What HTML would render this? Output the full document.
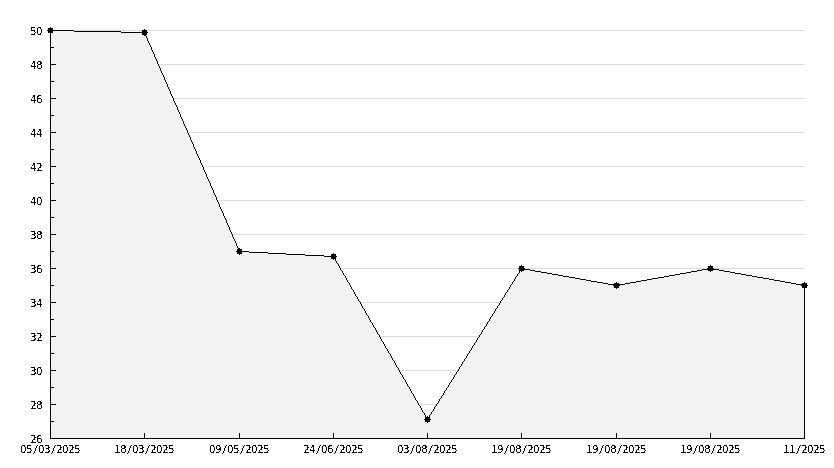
<!DOCTYPE html>
<html lang="en">
<head>
<meta charset="utf-8">
<title>Chart</title>
<style>
html,body{margin:0;padding:0;background:#fff;}
body{width:834px;height:468px;overflow:hidden;}
svg{display:block;}
text{font-family:"DejaVu Sans Condensed","DejaVu Sans","Liberation Sans",sans-serif;font-stretch:condensed;font-size:11px;fill:#000;}
.s{font-style:italic;}
</style>
</head>
<body>
<svg width="834" height="468" viewBox="0 0 834 468">
<defs>
<filter id="alias" x="0" y="0" width="834" height="468" filterUnits="userSpaceOnUse" color-interpolation-filters="sRGB">
<feComponentTransfer><feFuncA type="discrete" tableValues="0 0 0 0 0 1 1 1 1 1 1"/></feComponentTransfer>
</filter>
</defs>
<rect x="0" y="0" width="834" height="468" fill="#ffffff"/>
<g shape-rendering="crispEdges">
<g fill="#dcdcdc">
<rect x="50" y="404" width="755" height="1"/>
<rect x="50" y="370" width="755" height="1"/>
<rect x="50" y="336" width="755" height="1"/>
<rect x="50" y="302" width="755" height="1"/>
<rect x="50" y="268" width="755" height="1"/>
<rect x="50" y="234" width="755" height="1"/>
<rect x="50" y="200" width="755" height="1"/>
<rect x="50" y="166" width="755" height="1"/>
<rect x="50" y="132" width="755" height="1"/>
<rect x="50" y="98" width="755" height="1"/>
<rect x="50" y="64" width="755" height="1"/>
<rect x="50" y="30" width="755" height="1"/>
</g>
<polygon points="50.5,438.5 50.5,30.5 144.5,32.5 239.5,251.5 333.5,256.5 427.5,419.5 521.5,268.5 616.5,285.5 710.5,268.5 804.5,285.5 804.5,438.5" fill="#f2f2f2"/>
<g fill="#000">
<rect x="50" y="30" width="24" height="1"/>
<rect x="74" y="31" width="47" height="1"/>
<rect x="121" y="32" width="24" height="1"/>
<rect x="144" y="32" width="1" height="2"/>
<rect x="145" y="34" width="1" height="2"/>
<rect x="146" y="36" width="1" height="2"/>
<rect x="147" y="38" width="1" height="3"/>
<rect x="148" y="41" width="1" height="2"/>
<rect x="149" y="43" width="1" height="2"/>
<rect x="150" y="45" width="1" height="2"/>
<rect x="151" y="47" width="1" height="3"/>
<rect x="152" y="50" width="1" height="2"/>
<rect x="153" y="52" width="1" height="2"/>
<rect x="154" y="54" width="1" height="3"/>
<rect x="155" y="57" width="1" height="2"/>
<rect x="156" y="59" width="1" height="2"/>
<rect x="157" y="61" width="1" height="3"/>
<rect x="158" y="64" width="1" height="2"/>
<rect x="159" y="66" width="1" height="2"/>
<rect x="160" y="68" width="1" height="3"/>
<rect x="161" y="71" width="1" height="2"/>
<rect x="162" y="73" width="1" height="2"/>
<rect x="163" y="75" width="1" height="2"/>
<rect x="164" y="77" width="1" height="3"/>
<rect x="165" y="80" width="1" height="2"/>
<rect x="166" y="82" width="1" height="2"/>
<rect x="167" y="84" width="1" height="3"/>
<rect x="168" y="87" width="1" height="2"/>
<rect x="169" y="89" width="1" height="2"/>
<rect x="170" y="91" width="1" height="3"/>
<rect x="171" y="94" width="1" height="2"/>
<rect x="172" y="96" width="1" height="2"/>
<rect x="173" y="98" width="1" height="3"/>
<rect x="174" y="101" width="1" height="2"/>
<rect x="175" y="103" width="1" height="2"/>
<rect x="176" y="105" width="1" height="2"/>
<rect x="177" y="107" width="1" height="3"/>
<rect x="178" y="110" width="1" height="2"/>
<rect x="179" y="112" width="1" height="2"/>
<rect x="180" y="114" width="1" height="3"/>
<rect x="181" y="117" width="1" height="2"/>
<rect x="182" y="119" width="1" height="2"/>
<rect x="183" y="121" width="1" height="3"/>
<rect x="184" y="124" width="1" height="2"/>
<rect x="185" y="126" width="1" height="2"/>
<rect x="186" y="128" width="1" height="2"/>
<rect x="187" y="130" width="1" height="3"/>
<rect x="188" y="133" width="1" height="2"/>
<rect x="189" y="135" width="1" height="2"/>
<rect x="190" y="137" width="1" height="3"/>
<rect x="191" y="140" width="1" height="2"/>
<rect x="192" y="142" width="1" height="2"/>
<rect x="193" y="144" width="1" height="3"/>
<rect x="194" y="147" width="1" height="2"/>
<rect x="195" y="149" width="1" height="2"/>
<rect x="196" y="151" width="1" height="3"/>
<rect x="197" y="154" width="1" height="2"/>
<rect x="198" y="156" width="1" height="2"/>
<rect x="199" y="158" width="1" height="2"/>
<rect x="200" y="160" width="1" height="3"/>
<rect x="201" y="163" width="1" height="2"/>
<rect x="202" y="165" width="1" height="2"/>
<rect x="203" y="167" width="1" height="3"/>
<rect x="204" y="170" width="1" height="2"/>
<rect x="205" y="172" width="1" height="2"/>
<rect x="206" y="174" width="1" height="3"/>
<rect x="207" y="177" width="1" height="2"/>
<rect x="208" y="179" width="1" height="2"/>
<rect x="209" y="181" width="1" height="2"/>
<rect x="210" y="183" width="1" height="3"/>
<rect x="211" y="186" width="1" height="2"/>
<rect x="212" y="188" width="1" height="2"/>
<rect x="213" y="190" width="1" height="3"/>
<rect x="214" y="193" width="1" height="2"/>
<rect x="215" y="195" width="1" height="2"/>
<rect x="216" y="197" width="1" height="3"/>
<rect x="217" y="200" width="1" height="2"/>
<rect x="218" y="202" width="1" height="2"/>
<rect x="219" y="204" width="1" height="3"/>
<rect x="220" y="207" width="1" height="2"/>
<rect x="221" y="209" width="1" height="2"/>
<rect x="222" y="211" width="1" height="2"/>
<rect x="223" y="213" width="1" height="3"/>
<rect x="224" y="216" width="1" height="2"/>
<rect x="225" y="218" width="1" height="2"/>
<rect x="226" y="220" width="1" height="3"/>
<rect x="227" y="223" width="1" height="2"/>
<rect x="228" y="225" width="1" height="2"/>
<rect x="229" y="227" width="1" height="3"/>
<rect x="230" y="230" width="1" height="2"/>
<rect x="231" y="232" width="1" height="2"/>
<rect x="232" y="234" width="1" height="3"/>
<rect x="233" y="237" width="1" height="2"/>
<rect x="234" y="239" width="1" height="2"/>
<rect x="235" y="241" width="1" height="2"/>
<rect x="236" y="243" width="1" height="3"/>
<rect x="237" y="246" width="1" height="2"/>
<rect x="238" y="248" width="1" height="2"/>
<rect x="239" y="250" width="1" height="2"/>
<rect x="239" y="251" width="10" height="1"/>
<rect x="249" y="252" width="19" height="1"/>
<rect x="268" y="253" width="18" height="1"/>
<rect x="286" y="254" width="19" height="1"/>
<rect x="305" y="255" width="19" height="1"/>
<rect x="324" y="256" width="10" height="1"/>
<rect x="333" y="256" width="1" height="1"/>
<rect x="334" y="257" width="1" height="2"/>
<rect x="335" y="259" width="1" height="2"/>
<rect x="336" y="261" width="1" height="2"/>
<rect x="337" y="263" width="1" height="1"/>
<rect x="338" y="264" width="1" height="2"/>
<rect x="339" y="266" width="1" height="2"/>
<rect x="340" y="268" width="1" height="2"/>
<rect x="341" y="270" width="1" height="1"/>
<rect x="342" y="271" width="1" height="2"/>
<rect x="343" y="273" width="1" height="2"/>
<rect x="344" y="275" width="1" height="1"/>
<rect x="345" y="276" width="1" height="2"/>
<rect x="346" y="278" width="1" height="2"/>
<rect x="347" y="280" width="1" height="2"/>
<rect x="348" y="282" width="1" height="1"/>
<rect x="349" y="283" width="1" height="2"/>
<rect x="350" y="285" width="1" height="2"/>
<rect x="351" y="287" width="1" height="2"/>
<rect x="352" y="289" width="1" height="1"/>
<rect x="353" y="290" width="1" height="2"/>
<rect x="354" y="292" width="1" height="2"/>
<rect x="355" y="294" width="1" height="2"/>
<rect x="356" y="296" width="1" height="1"/>
<rect x="357" y="297" width="1" height="2"/>
<rect x="358" y="299" width="1" height="2"/>
<rect x="359" y="301" width="1" height="1"/>
<rect x="360" y="302" width="1" height="2"/>
<rect x="361" y="304" width="1" height="2"/>
<rect x="362" y="306" width="1" height="2"/>
<rect x="363" y="308" width="1" height="1"/>
<rect x="364" y="309" width="1" height="2"/>
<rect x="365" y="311" width="1" height="2"/>
<rect x="366" y="313" width="1" height="2"/>
<rect x="367" y="315" width="1" height="1"/>
<rect x="368" y="316" width="1" height="2"/>
<rect x="369" y="318" width="1" height="2"/>
<rect x="370" y="320" width="1" height="2"/>
<rect x="371" y="322" width="1" height="1"/>
<rect x="372" y="323" width="1" height="2"/>
<rect x="373" y="325" width="1" height="2"/>
<rect x="374" y="327" width="1" height="1"/>
<rect x="375" y="328" width="1" height="2"/>
<rect x="376" y="330" width="1" height="2"/>
<rect x="377" y="332" width="1" height="2"/>
<rect x="378" y="334" width="1" height="1"/>
<rect x="379" y="335" width="1" height="2"/>
<rect x="380" y="337" width="1" height="2"/>
<rect x="381" y="339" width="1" height="2"/>
<rect x="382" y="341" width="1" height="1"/>
<rect x="383" y="342" width="1" height="2"/>
<rect x="384" y="344" width="1" height="2"/>
<rect x="385" y="346" width="1" height="2"/>
<rect x="386" y="348" width="1" height="1"/>
<rect x="387" y="349" width="1" height="2"/>
<rect x="388" y="351" width="1" height="2"/>
<rect x="389" y="353" width="1" height="1"/>
<rect x="390" y="354" width="1" height="2"/>
<rect x="391" y="356" width="1" height="2"/>
<rect x="392" y="358" width="1" height="2"/>
<rect x="393" y="360" width="1" height="1"/>
<rect x="394" y="361" width="1" height="2"/>
<rect x="395" y="363" width="1" height="2"/>
<rect x="396" y="365" width="1" height="2"/>
<rect x="397" y="367" width="1" height="1"/>
<rect x="398" y="368" width="1" height="2"/>
<rect x="399" y="370" width="1" height="2"/>
<rect x="400" y="372" width="1" height="2"/>
<rect x="401" y="374" width="1" height="1"/>
<rect x="402" y="375" width="1" height="2"/>
<rect x="403" y="377" width="1" height="2"/>
<rect x="404" y="379" width="1" height="1"/>
<rect x="405" y="380" width="1" height="2"/>
<rect x="406" y="382" width="1" height="2"/>
<rect x="407" y="384" width="1" height="2"/>
<rect x="408" y="386" width="1" height="1"/>
<rect x="409" y="387" width="1" height="2"/>
<rect x="410" y="389" width="1" height="2"/>
<rect x="411" y="391" width="1" height="2"/>
<rect x="412" y="393" width="1" height="1"/>
<rect x="413" y="394" width="1" height="2"/>
<rect x="414" y="396" width="1" height="2"/>
<rect x="415" y="398" width="1" height="2"/>
<rect x="416" y="400" width="1" height="1"/>
<rect x="417" y="401" width="1" height="2"/>
<rect x="418" y="403" width="1" height="2"/>
<rect x="419" y="405" width="1" height="1"/>
<rect x="420" y="406" width="1" height="2"/>
<rect x="421" y="408" width="1" height="2"/>
<rect x="422" y="410" width="1" height="2"/>
<rect x="423" y="412" width="1" height="1"/>
<rect x="424" y="413" width="1" height="2"/>
<rect x="425" y="415" width="1" height="2"/>
<rect x="426" y="417" width="1" height="2"/>
<rect x="427" y="419" width="1" height="1"/>
<rect x="427" y="419" width="1" height="1"/>
<rect x="428" y="417" width="1" height="2"/>
<rect x="429" y="415" width="1" height="2"/>
<rect x="430" y="414" width="1" height="1"/>
<rect x="431" y="412" width="1" height="2"/>
<rect x="432" y="411" width="1" height="1"/>
<rect x="433" y="409" width="1" height="2"/>
<rect x="434" y="407" width="1" height="2"/>
<rect x="435" y="406" width="1" height="1"/>
<rect x="436" y="404" width="1" height="2"/>
<rect x="437" y="403" width="1" height="1"/>
<rect x="438" y="401" width="1" height="2"/>
<rect x="439" y="399" width="1" height="2"/>
<rect x="440" y="398" width="1" height="1"/>
<rect x="441" y="396" width="1" height="2"/>
<rect x="442" y="395" width="1" height="1"/>
<rect x="443" y="393" width="1" height="2"/>
<rect x="444" y="391" width="1" height="2"/>
<rect x="445" y="390" width="1" height="1"/>
<rect x="446" y="388" width="1" height="2"/>
<rect x="447" y="387" width="1" height="1"/>
<rect x="448" y="385" width="1" height="2"/>
<rect x="449" y="383" width="1" height="2"/>
<rect x="450" y="382" width="1" height="1"/>
<rect x="451" y="380" width="1" height="2"/>
<rect x="452" y="379" width="1" height="1"/>
<rect x="453" y="377" width="1" height="2"/>
<rect x="454" y="375" width="1" height="2"/>
<rect x="455" y="374" width="1" height="1"/>
<rect x="456" y="372" width="1" height="2"/>
<rect x="457" y="371" width="1" height="1"/>
<rect x="458" y="369" width="1" height="2"/>
<rect x="459" y="367" width="1" height="2"/>
<rect x="460" y="366" width="1" height="1"/>
<rect x="461" y="364" width="1" height="2"/>
<rect x="462" y="362" width="1" height="2"/>
<rect x="463" y="361" width="1" height="1"/>
<rect x="464" y="359" width="1" height="2"/>
<rect x="465" y="358" width="1" height="1"/>
<rect x="466" y="356" width="1" height="2"/>
<rect x="467" y="354" width="1" height="2"/>
<rect x="468" y="353" width="1" height="1"/>
<rect x="469" y="351" width="1" height="2"/>
<rect x="470" y="350" width="1" height="1"/>
<rect x="471" y="348" width="1" height="2"/>
<rect x="472" y="346" width="1" height="2"/>
<rect x="473" y="345" width="1" height="1"/>
<rect x="474" y="343" width="1" height="2"/>
<rect x="475" y="342" width="1" height="1"/>
<rect x="476" y="340" width="1" height="2"/>
<rect x="477" y="338" width="1" height="2"/>
<rect x="478" y="337" width="1" height="1"/>
<rect x="479" y="335" width="1" height="2"/>
<rect x="480" y="334" width="1" height="1"/>
<rect x="481" y="332" width="1" height="2"/>
<rect x="482" y="330" width="1" height="2"/>
<rect x="483" y="329" width="1" height="1"/>
<rect x="484" y="327" width="1" height="2"/>
<rect x="485" y="326" width="1" height="1"/>
<rect x="486" y="324" width="1" height="2"/>
<rect x="487" y="322" width="1" height="2"/>
<rect x="488" y="321" width="1" height="1"/>
<rect x="489" y="319" width="1" height="2"/>
<rect x="490" y="317" width="1" height="2"/>
<rect x="491" y="316" width="1" height="1"/>
<rect x="492" y="314" width="1" height="2"/>
<rect x="493" y="313" width="1" height="1"/>
<rect x="494" y="311" width="1" height="2"/>
<rect x="495" y="309" width="1" height="2"/>
<rect x="496" y="308" width="1" height="1"/>
<rect x="497" y="306" width="1" height="2"/>
<rect x="498" y="305" width="1" height="1"/>
<rect x="499" y="303" width="1" height="2"/>
<rect x="500" y="301" width="1" height="2"/>
<rect x="501" y="300" width="1" height="1"/>
<rect x="502" y="298" width="1" height="2"/>
<rect x="503" y="297" width="1" height="1"/>
<rect x="504" y="295" width="1" height="2"/>
<rect x="505" y="293" width="1" height="2"/>
<rect x="506" y="292" width="1" height="1"/>
<rect x="507" y="290" width="1" height="2"/>
<rect x="508" y="289" width="1" height="1"/>
<rect x="509" y="287" width="1" height="2"/>
<rect x="510" y="285" width="1" height="2"/>
<rect x="511" y="284" width="1" height="1"/>
<rect x="512" y="282" width="1" height="2"/>
<rect x="513" y="281" width="1" height="1"/>
<rect x="514" y="279" width="1" height="2"/>
<rect x="515" y="277" width="1" height="2"/>
<rect x="516" y="276" width="1" height="1"/>
<rect x="517" y="274" width="1" height="2"/>
<rect x="518" y="273" width="1" height="1"/>
<rect x="519" y="271" width="1" height="2"/>
<rect x="520" y="269" width="1" height="2"/>
<rect x="521" y="268" width="1" height="1"/>
<rect x="521" y="268" width="3" height="1"/>
<rect x="524" y="269" width="6" height="1"/>
<rect x="530" y="270" width="5" height="1"/>
<rect x="535" y="271" width="6" height="1"/>
<rect x="541" y="272" width="6" height="1"/>
<rect x="547" y="273" width="5" height="1"/>
<rect x="552" y="274" width="6" height="1"/>
<rect x="558" y="275" width="5" height="1"/>
<rect x="563" y="276" width="6" height="1"/>
<rect x="569" y="277" width="6" height="1"/>
<rect x="575" y="278" width="5" height="1"/>
<rect x="580" y="279" width="6" height="1"/>
<rect x="586" y="280" width="5" height="1"/>
<rect x="591" y="281" width="6" height="1"/>
<rect x="597" y="282" width="6" height="1"/>
<rect x="603" y="283" width="5" height="1"/>
<rect x="608" y="284" width="6" height="1"/>
<rect x="614" y="285" width="3" height="1"/>
<rect x="616" y="285" width="3" height="1"/>
<rect x="619" y="284" width="6" height="1"/>
<rect x="625" y="283" width="5" height="1"/>
<rect x="630" y="282" width="6" height="1"/>
<rect x="636" y="281" width="5" height="1"/>
<rect x="641" y="280" width="6" height="1"/>
<rect x="647" y="279" width="5" height="1"/>
<rect x="652" y="278" width="6" height="1"/>
<rect x="658" y="277" width="6" height="1"/>
<rect x="664" y="276" width="5" height="1"/>
<rect x="669" y="275" width="6" height="1"/>
<rect x="675" y="274" width="5" height="1"/>
<rect x="680" y="273" width="6" height="1"/>
<rect x="686" y="272" width="5" height="1"/>
<rect x="691" y="271" width="6" height="1"/>
<rect x="697" y="270" width="5" height="1"/>
<rect x="702" y="269" width="6" height="1"/>
<rect x="708" y="268" width="3" height="1"/>
<rect x="710" y="268" width="3" height="1"/>
<rect x="713" y="269" width="6" height="1"/>
<rect x="719" y="270" width="5" height="1"/>
<rect x="724" y="271" width="6" height="1"/>
<rect x="730" y="272" width="5" height="1"/>
<rect x="735" y="273" width="6" height="1"/>
<rect x="741" y="274" width="5" height="1"/>
<rect x="746" y="275" width="6" height="1"/>
<rect x="752" y="276" width="5" height="1"/>
<rect x="757" y="277" width="6" height="1"/>
<rect x="763" y="278" width="6" height="1"/>
<rect x="769" y="279" width="5" height="1"/>
<rect x="774" y="280" width="6" height="1"/>
<rect x="780" y="281" width="5" height="1"/>
<rect x="785" y="282" width="6" height="1"/>
<rect x="791" y="283" width="5" height="1"/>
<rect x="796" y="284" width="6" height="1"/>
<rect x="802" y="285" width="3" height="1"/>
<rect x="804" y="285" width="1" height="154"/>
</g>
<g fill="#000">
<rect x="50" y="30" width="1" height="409"/>
<rect x="50" y="438" width="755" height="1"/>
<rect x="50" y="438" width="6" height="1"/>
<rect x="50" y="421" width="4" height="1"/>
<rect x="50" y="404" width="6" height="1"/>
<rect x="50" y="387" width="4" height="1"/>
<rect x="50" y="370" width="6" height="1"/>
<rect x="50" y="353" width="4" height="1"/>
<rect x="50" y="336" width="6" height="1"/>
<rect x="50" y="319" width="4" height="1"/>
<rect x="50" y="302" width="6" height="1"/>
<rect x="50" y="285" width="4" height="1"/>
<rect x="50" y="268" width="6" height="1"/>
<rect x="50" y="251" width="4" height="1"/>
<rect x="50" y="234" width="6" height="1"/>
<rect x="50" y="217" width="4" height="1"/>
<rect x="50" y="200" width="6" height="1"/>
<rect x="50" y="183" width="4" height="1"/>
<rect x="50" y="166" width="6" height="1"/>
<rect x="50" y="149" width="4" height="1"/>
<rect x="50" y="132" width="6" height="1"/>
<rect x="50" y="115" width="4" height="1"/>
<rect x="50" y="98" width="6" height="1"/>
<rect x="50" y="81" width="4" height="1"/>
<rect x="50" y="64" width="6" height="1"/>
<rect x="50" y="47" width="4" height="1"/>
<rect x="50" y="30" width="6" height="1"/>
<rect x="50" y="433" width="1" height="6"/>
<rect x="144" y="433" width="1" height="6"/>
<rect x="239" y="433" width="1" height="6"/>
<rect x="333" y="433" width="1" height="6"/>
<rect x="427" y="433" width="1" height="6"/>
<rect x="521" y="433" width="1" height="6"/>
<rect x="616" y="433" width="1" height="6"/>
<rect x="710" y="433" width="1" height="6"/>
<rect x="804" y="433" width="1" height="6"/>
<rect x="48" y="28" width="5" height="5"/><rect x="47" y="30" width="7" height="1"/><rect x="50" y="27" width="1" height="7"/>
<rect x="142" y="30" width="5" height="5"/><rect x="141" y="32" width="7" height="1"/><rect x="144" y="29" width="1" height="7"/>
<rect x="237" y="249" width="5" height="5"/><rect x="236" y="251" width="7" height="1"/><rect x="239" y="248" width="1" height="7"/>
<rect x="331" y="254" width="5" height="5"/><rect x="330" y="256" width="7" height="1"/><rect x="333" y="253" width="1" height="7"/>
<rect x="425" y="417" width="5" height="5"/><rect x="424" y="419" width="7" height="1"/><rect x="427" y="416" width="1" height="7"/>
<rect x="519" y="266" width="5" height="5"/><rect x="518" y="268" width="7" height="1"/><rect x="521" y="265" width="1" height="7"/>
<rect x="614" y="283" width="5" height="5"/><rect x="613" y="285" width="7" height="1"/><rect x="616" y="282" width="1" height="7"/>
<rect x="708" y="266" width="5" height="5"/><rect x="707" y="268" width="7" height="1"/><rect x="710" y="265" width="1" height="7"/>
<rect x="802" y="283" width="5" height="5"/><rect x="801" y="285" width="7" height="1"/><rect x="804" y="282" width="1" height="7"/>
</g>
</g>
<g class="labels" filter="url(#alias)">
<text x="30.35 36.35" y="443">26</text>
<text x="30.35 36.35" y="409">28</text>
<text x="30.35 36.35" y="375">30</text>
<text x="30.35 36.35" y="341">32</text>
<text x="30.35 36.35" y="307">34</text>
<text x="30.35 36.35" y="273">36</text>
<text x="30.35 36.35" y="239">38</text>
<text x="30.35 36.35" y="205">40</text>
<text x="30.35 36.35" y="171">42</text>
<text x="30.35 36.35" y="137">44</text>
<text x="30.35 36.35" y="103">46</text>
<text x="30.35 36.35" y="69">48</text>
<text x="30.35 36.35" y="35">50</text>
<text x="20.35 26.35 33.75 38.35 44.35 51.75 56.35 62.35 68.35 74.35" y="453">05<tspan class="s">/</tspan>03<tspan class="s">/</tspan>2025</text>
<text x="114.35 120.35 127.75 132.35 138.35 145.75 150.35 156.35 162.35 168.35" y="453">18<tspan class="s">/</tspan>03<tspan class="s">/</tspan>2025</text>
<text x="209.35 215.35 222.75 227.35 233.35 240.75 245.35 251.35 257.35 263.35" y="453">09<tspan class="s">/</tspan>05<tspan class="s">/</tspan>2025</text>
<text x="303.35 309.35 316.75 321.35 327.35 334.75 339.35 345.35 351.35 357.35" y="453">24<tspan class="s">/</tspan>06<tspan class="s">/</tspan>2025</text>
<text x="397.35 403.35 410.75 415.35 421.35 428.75 433.35 439.35 445.35 451.35" y="453">03<tspan class="s">/</tspan>08<tspan class="s">/</tspan>2025</text>
<text x="491.35 497.35 504.75 509.35 515.35 522.75 527.35 533.35 539.35 545.35" y="453">19<tspan class="s">/</tspan>08<tspan class="s">/</tspan>2025</text>
<text x="586.35 592.35 599.75 604.35 610.35 617.75 622.35 628.35 634.35 640.35" y="453">19<tspan class="s">/</tspan>08<tspan class="s">/</tspan>2025</text>
<text x="680.35 686.35 693.75 698.35 704.35 711.75 716.35 722.35 728.35 734.35" y="453">19<tspan class="s">/</tspan>08<tspan class="s">/</tspan>2025</text>
<text x="783.35 789.35 796.75 801.35 807.35 813.35 819.35" y="453">11<tspan class="s">/</tspan>2025</text>
</g>
</svg>
</body>
</html>
